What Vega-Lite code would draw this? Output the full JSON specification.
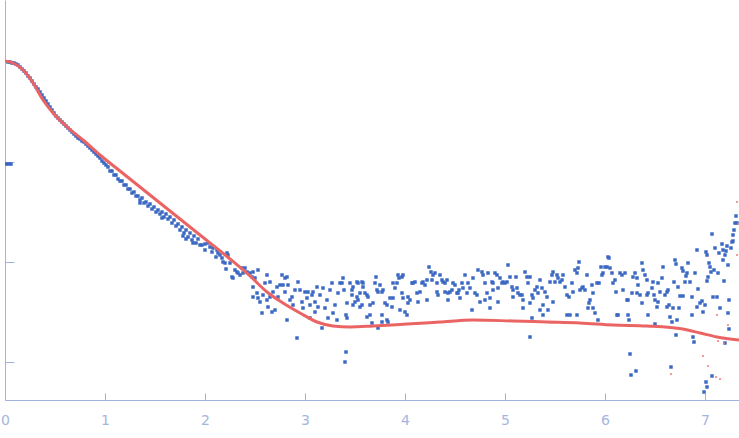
{
  "$schema": "https://vega.github.io/schema/vega-lite/v6.json",
  "width": 734,
  "height": 400,
  "autosize": {"type": "none"},
  "padding": {"left": 5, "top": 0, "right": 0, "bottom": 38},
  "background": "white",
  "config": {"view": {"stroke": null}},
  "datasets": {
    "obs": [
      {"q":0.01,"v":-1.02},{"q":0.035,"v":-1.02},{"q":0.06,"v":-1.02},
      {"q":0.03,"v":0.00},{"q":0.05,"v":0.00},{"q":0.07,"v":-0.01},{"q":0.09,"v":-0.01},{"q":0.11,"v":-0.02},{"q":0.13,"v":-0.03},{"q":0.15,"v":-0.05},{"q":0.17,"v":-0.07},{"q":0.19,"v":-0.09},{"q":0.21,"v":-0.11},{"q":0.23,"v":-0.14},{"q":0.25,"v":-0.16},{"q":0.27,"v":-0.19},{"q":0.29,"v":-0.22},{"q":0.31,"v":-0.25},{"q":0.33,"v":-0.27},{"q":0.35,"v":-0.30},{"q":0.37,"v":-0.33},{"q":0.39,"v":-0.36},{"q":0.41,"v":-0.39},{"q":0.43,"v":-0.42},{"q":0.45,"v":-0.45},{"q":0.47,"v":-0.48},{"q":0.49,"v":-0.51},{"q":0.51,"v":-0.54},{"q":0.53,"v":-0.56},{"q":0.55,"v":-0.58},{"q":0.57,"v":-0.60},{"q":0.59,"v":-0.62},{"q":0.61,"v":-0.64},{"q":0.63,"v":-0.66},{"q":0.65,"v":-0.68},{"q":0.67,"v":-0.70},{"q":0.69,"v":-0.72},{"q":0.71,"v":-0.74},{"q":0.73,"v":-0.76},{"q":0.75,"v":-0.77},{"q":0.77,"v":-0.79},{"q":0.79,"v":-0.80},{"q":0.81,"v":-0.82},{"q":0.83,"v":-0.84},{"q":0.85,"v":-0.86},{"q":0.87,"v":-0.88},{"q":0.89,"v":-0.90},{"q":0.91,"v":-0.92},{"q":0.93,"v":-0.94},{"q":0.95,"v":-0.96},{"q":0.97,"v":-0.99},{"q":0.99,"v":-1.01},{"q":1.01,"v":-1.03},{"q":1.03,"v":-1.05},
      {"q":1.05,"v":-1.09},{"q":1.07,"v":-1.09},{"q":1.09,"v":-1.13},{"q":1.11,"v":-1.13},{"q":1.13,"v":-1.17},{"q":1.15,"v":-1.19},{"q":1.17,"v":-1.19},{"q":1.19,"v":-1.23},{"q":1.21,"v":-1.23},{"q":1.23,"v":-1.27},{"q":1.25,"v":-1.27},{"q":1.27,"v":-1.31},{"q":1.29,"v":-1.30},{"q":1.31,"v":-1.34},{"q":1.33,"v":-1.34},{"q":1.35,"v":-1.38},{"q":1.35,"v":-1.41},{"q":1.37,"v":-1.36},{"q":1.39,"v":-1.41},{"q":1.41,"v":-1.40},{"q":1.43,"v":-1.44},{"q":1.45,"v":-1.42},{"q":1.47,"v":-1.47},{"q":1.49,"v":-1.45},{"q":1.51,"v":-1.50},{"q":1.53,"v":-1.48},{"q":1.55,"v":-1.52},{"q":1.57,"v":-1.50},{"q":1.57,"v":-1.56},{"q":1.59,"v":-1.55},{"q":1.61,"v":-1.52},{"q":1.63,"v":-1.57},{"q":1.65,"v":-1.55},{"q":1.67,"v":-1.61},{"q":1.69,"v":-1.58},{"q":1.71,"v":-1.64},{"q":1.73,"v":-1.62},{"q":1.75,"v":-1.68},{"q":1.77,"v":-1.65},{"q":1.78,"v":-1.74},{"q":1.79,"v":-1.71},{"q":1.81,"v":-1.68},{"q":1.81,"v":-1.77},{"q":1.83,"v":-1.75},{"q":1.85,"v":-1.71},{"q":1.87,"v":-1.78},{"q":1.88,"v":-1.81},{"q":1.89,"v":-1.74},{"q":1.91,"v":-1.81},{"q":1.93,"v":-1.77},{"q":1.95,"v":-1.83},
      {"q":1.97,"v":-1.83},{"q":2.00,"v":-1.82},{"q":2.00,"v":-1.88},{"q":2.03,"v":-1.81},{"q":2.05,"v":-1.85},{"q":2.07,"v":-1.90},{"q":2.08,"v":-1.86},{"q":2.12,"v":-1.88},{"q":2.13,"v":-1.91},{"q":2.11,"v":-1.95},{"q":2.15,"v":-1.93},{"q":2.17,"v":-1.96},{"q":2.18,"v":-2.00},{"q":2.20,"v":-2.01},{"q":2.22,"v":-1.91},{"q":2.23,"v":-1.93},{"q":2.21,"v":-2.07},{"q":2.25,"v":-2.01},{"q":2.27,"v":-2.15},{"q":2.28,"v":-2.16},{"q":2.30,"v":-2.08},{"q":2.32,"v":-2.10},{"q":2.33,"v":-2.11},{"q":2.35,"v":-2.13},{"q":2.37,"v":-2.06},{"q":2.38,"v":-2.11},{"q":2.40,"v":-2.06},{"q":2.42,"v":-2.10},{"q":2.45,"v":-2.11},{"q":2.47,"v":-2.15},{"q":2.48,"v":-2.10},{"q":2.50,"v":-2.16},{"q":2.53,"v":-2.08},{"q":2.48,"v":-2.25},{"q":2.48,"v":-2.35},{"q":2.52,"v":-2.31},{"q":2.53,"v":-2.36},{"q":2.55,"v":-2.40},{"q":2.57,"v":-2.51},{"q":2.58,"v":-2.33},{"q":2.60,"v":-2.21},{"q":2.62,"v":-2.13},{"q":2.62,"v":-2.38},{"q":2.63,"v":-2.45},{"q":2.65,"v":-2.20},{"q":2.65,"v":-2.35},{"q":2.67,"v":-2.50},{"q":2.68,"v":-2.30},{"q":2.70,"v":-2.48},{"q":2.72,"v":-2.25},{"q":2.73,"v":-2.35},{"q":2.75,"v":-2.23},{"q":2.77,"v":-2.13},{"q":2.78,"v":-2.23},{"q":2.80,"v":-2.16},{"q":2.80,"v":-2.30},{"q":2.82,"v":-2.58},{"q":2.82,"v":-2.15},{"q":2.83,"v":-2.23},{"q":2.85,"v":-2.38},{"q":2.87,"v":-2.35},{"q":2.88,"v":-2.43},{"q":2.90,"v":-2.28},{"q":2.92,"v":-2.76},{"q":2.93,"v":-2.20},{"q":2.95,"v":-2.28},{"q":2.97,"v":-2.40},{"q":2.98,"v":-2.46},{"q":3.00,"v":-2.30},{"q":3.02,"v":-2.36},{"q":3.03,"v":-2.30},{"q":3.05,"v":-2.56},{"q":3.05,"v":-2.43},{"q":3.07,"v":-2.33},{"q":3.08,"v":-2.30},{"q":3.10,"v":-2.50},{"q":3.10,"v":-2.40},{"q":3.12,"v":-2.25},{"q":3.13,"v":-2.45},{"q":3.15,"v":-2.33},{"q":3.17,"v":-2.66},{"q":3.18,"v":-2.26},{"q":3.20,"v":-2.46},{"q":3.22,"v":-2.38},{"q":3.23,"v":-2.56},{"q":3.25,"v":-2.28},{"q":3.27,"v":-2.21},{"q":3.28,"v":-2.51},{"q":3.30,"v":-2.43},{"q":3.32,"v":-2.58},{"q":3.33,"v":-2.31},{"q":3.35,"v":-2.21},
      {"q":3.37,"v":-2.21},{"q":3.38,"v":-2.16},{"q":3.39,"v":-2.28},{"q":3.42,"v":-2.41},{"q":3.41,"v":-2.53},{"q":3.42,"v":-2.56},{"q":3.41,"v":-2.90},{"q":3.40,"v":-3.00},{"q":3.45,"v":-2.21},{"q":3.47,"v":-2.28},{"q":3.47,"v":-2.33},{"q":3.48,"v":-2.25},{"q":3.50,"v":-2.40},{"q":3.48,"v":-2.43},{"q":3.52,"v":-2.20},{"q":3.53,"v":-2.21},{"q":3.52,"v":-2.35},{"q":3.53,"v":-2.38},{"q":3.55,"v":-2.31},{"q":3.57,"v":-2.20},{"q":3.58,"v":-2.21},{"q":3.58,"v":-2.25},{"q":3.55,"v":-2.45},{"q":3.57,"v":-2.43},{"q":3.60,"v":-2.31},{"q":3.62,"v":-2.33},{"q":3.63,"v":-2.35},{"q":3.62,"v":-2.55},{"q":3.65,"v":-2.53},{"q":3.67,"v":-2.61},{"q":3.65,"v":-2.43},{"q":3.68,"v":-2.41},{"q":3.70,"v":-2.21},{"q":3.71,"v":-2.15},{"q":3.72,"v":-2.28},{"q":3.73,"v":-2.30},{"q":3.75,"v":-2.23},{"q":3.77,"v":-2.30},{"q":3.78,"v":-2.28},{"q":3.77,"v":-2.53},{"q":3.77,"v":-2.60},{"q":3.80,"v":-2.41},{"q":3.82,"v":-2.58},{"q":3.83,"v":-2.60},{"q":3.73,"v":-2.66},{"q":3.82,"v":-2.43},{"q":3.85,"v":-2.36},{"q":3.87,"v":-2.45},{"q":3.88,"v":-2.21},{"q":3.90,"v":-2.26},{"q":3.88,"v":-2.36},{"q":3.92,"v":-2.21},{"q":3.93,"v":-2.13},{"q":3.94,"v":-2.16},{"q":3.97,"v":-2.15},{"q":3.98,"v":-2.13},{"q":3.97,"v":-2.31},{"q":3.98,"v":-2.36},{"q":3.95,"v":-2.48},{"q":4.00,"v":-2.50},{"q":4.02,"v":-2.53},{"q":4.03,"v":-2.41},{"q":4.05,"v":-2.38},{"q":4.03,"v":-2.35},{"q":4.07,"v":-2.21},{"q":4.08,"v":-2.21},{"q":4.10,"v":-2.20},{"q":4.12,"v":-2.31},{"q":4.13,"v":-2.40},{"q":4.15,"v":-2.30},{"q":4.17,"v":-2.21},{"q":4.18,"v":-2.20},{"q":4.20,"v":-2.23},{"q":4.22,"v":-2.18},{"q":4.22,"v":-2.38},{"q":4.24,"v":-2.05},{"q":4.26,"v":-2.10},{"q":4.27,"v":-2.18},{"q":4.28,"v":-2.13},{"q":4.30,"v":-2.11},{"q":4.32,"v":-2.21},{"q":4.32,"v":-2.30},{"q":4.33,"v":-2.33},{"q":4.35,"v":-2.13},{"q":4.37,"v":-2.18},{"q":4.38,"v":-2.20},{"q":4.40,"v":-2.21},{"q":4.42,"v":-2.18},{"q":4.40,"v":-2.30},{"q":4.43,"v":-2.31},{"q":4.43,"v":-2.38},{"q":4.45,"v":-2.30},{"q":4.47,"v":-2.28},{"q":4.48,"v":-2.21},{"q":4.50,"v":-2.23},{"q":4.52,"v":-2.31},{"q":4.53,"v":-2.31},{"q":4.54,"v":-2.28},{"q":4.55,"v":-2.36},{"q":4.57,"v":-2.21},{"q":4.58,"v":-2.26},{"q":4.60,"v":-2.13},{"q":4.62,"v":-2.31},{"q":4.63,"v":-2.21},{"q":4.65,"v":-2.26},{"q":4.67,"v":-2.48},{"q":4.68,"v":-2.16},{"q":4.70,"v":-2.31},{"q":4.72,"v":-2.33},{"q":4.73,"v":-2.08},{"q":4.75,"v":-2.40},
      {"q":4.77,"v":-2.10},{"q":4.78,"v":-2.13},{"q":4.80,"v":-2.21},{"q":4.80,"v":-2.38},{"q":4.82,"v":-2.31},{"q":4.83,"v":-2.11},{"q":4.85,"v":-2.46},{"q":4.85,"v":-2.36},{"q":4.87,"v":-2.20},{"q":4.88,"v":-2.21},{"q":4.88,"v":-2.28},{"q":4.90,"v":-2.11},{"q":4.92,"v":-2.13},{"q":4.93,"v":-2.40},{"q":4.93,"v":-2.26},{"q":4.95,"v":-2.16},{"q":4.97,"v":-2.21},{"q":4.98,"v":-2.20},{"q":5.00,"v":-2.21},{"q":5.02,"v":-2.20},{"q":5.03,"v":-2.03},{"q":5.05,"v":-2.15},{"q":5.07,"v":-2.25},{"q":5.08,"v":-2.28},{"q":5.08,"v":-2.35},{"q":5.11,"v":-2.15},{"q":5.12,"v":-2.26},{"q":5.13,"v":-2.31},{"q":5.15,"v":-2.33},{"q":5.17,"v":-2.33},{"q":5.18,"v":-2.38},{"q":5.18,"v":-2.46},{"q":5.20,"v":-2.10},{"q":5.22,"v":-2.15},{"q":5.23,"v":-2.21},{"q":5.25,"v":-2.15},{"q":5.25,"v":-2.41},{"q":5.27,"v":-2.56},{"q":5.27,"v":-2.33},{"q":5.25,"v":-2.75},{"q":5.28,"v":-2.36},{"q":5.30,"v":-2.28},{"q":5.32,"v":-2.25},{"q":5.33,"v":-2.31},{"q":5.35,"v":-2.18},{"q":5.35,"v":-2.48},{"q":5.37,"v":-2.26},{"q":5.38,"v":-2.43},{"q":5.38,"v":-2.53},{"q":5.40,"v":-2.30},{"q":5.42,"v":-2.35},{"q":5.43,"v":-2.48},{"q":5.45,"v":-2.20},{"q":5.47,"v":-2.13},{"q":5.48,"v":-2.40},{"q":5.48,"v":-2.10},{"q":5.50,"v":-2.20},{"q":5.52,"v":-2.13},{"q":5.53,"v":-2.16},{"q":5.55,"v":-2.20},{"q":5.57,"v":-2.18},{"q":5.58,"v":-2.13},{"q":5.60,"v":-2.25},{"q":5.62,"v":-2.33},{"q":5.62,"v":-2.53},{"q":5.65,"v":-2.53},{"q":5.64,"v":-2.35},{"q":5.67,"v":-2.21},{"q":5.68,"v":-2.30},{"q":5.70,"v":-2.08},{"q":5.72,"v":-2.53},{"q":5.72,"v":-2.11},{"q":5.73,"v":-2.06},{"q":5.74,"v":-2.00},{"q":5.75,"v":-2.28},{"q":5.77,"v":-2.26},{"q":5.78,"v":-2.25},{"q":5.80,"v":-2.28},{"q":5.82,"v":-2.13},{"q":5.83,"v":-2.46},{"q":5.84,"v":-2.41},{"q":5.85,"v":-2.38},{"q":5.87,"v":-2.23},{"q":5.88,"v":-2.31},{"q":5.88,"v":-2.46},{"q":5.90,"v":-2.51},{"q":5.92,"v":-2.21},{"q":5.93,"v":-2.58},{"q":5.94,"v":-2.21},{"q":5.96,"v":-2.05},{"q":5.97,"v":-2.13},{"q":5.98,"v":-2.11},{"q":6.00,"v":-2.05},{"q":6.02,"v":-2.05},{"q":6.03,"v":-1.95},{"q":6.04,"v":-1.96},{"q":6.05,"v":-2.06},{"q":6.07,"v":-2.11},{"q":6.08,"v":-2.21},{"q":6.10,"v":-2.18},{"q":6.11,"v":-2.30},{"q":6.12,"v":-2.53},{"q":6.13,"v":-2.53},{"q":6.15,"v":-2.11},{"q":6.17,"v":-2.13},{"q":6.18,"v":-2.28},{"q":6.20,"v":-2.11},{"q":6.22,"v":-2.38},{"q":6.23,"v":-2.38},{"q":6.23,"v":-2.53},{"q":6.24,"v":-2.58},{"q":6.25,"v":-2.92},{"q":6.26,"v":-3.13},{"q":6.31,"v":-3.09},{"q":6.27,"v":-2.31},{"q":6.28,"v":-2.15},{"q":6.30,"v":-2.11},{"q":6.32,"v":-2.16},{"q":6.33,"v":-2.23},{"q":6.35,"v":-2.33},{"q":6.32,"v":-2.31},{"q":6.37,"v":-2.01},{"q":6.37,"v":-2.41},{"q":6.38,"v":-2.08},{"q":6.40,"v":-2.13},{"q":6.42,"v":-2.18},{"q":6.42,"v":-2.33},{"q":6.43,"v":-2.53},
      {"q":6.43,"v":-2.31},{"q":6.47,"v":-2.26},{"q":6.48,"v":-2.20},{"q":6.49,"v":-2.33},{"q":6.50,"v":-2.38},{"q":6.50,"v":-2.62},{"q":6.52,"v":-2.45},{"q":6.53,"v":-2.21},{"q":6.53,"v":-2.40},{"q":6.55,"v":-2.30},{"q":6.57,"v":-2.16},{"q":6.58,"v":-2.05},{"q":6.60,"v":-2.33},{"q":6.62,"v":-2.30},{"q":6.62,"v":-2.45},{"q":6.63,"v":-2.28},{"q":6.64,"v":-2.43},{"q":6.65,"v":-2.55},{"q":6.66,"v":-3.05},{"q":6.67,"v":-2.60},{"q":6.68,"v":-2.46},{"q":6.69,"v":-2.20},{"q":6.70,"v":-1.98},{"q":6.71,"v":-2.02},{"q":6.71,"v":-2.73},{"q":6.72,"v":-2.58},{"q":6.73,"v":-2.25},{"q":6.74,"v":-2.46},{"q":6.75,"v":-2.34},{"q":6.77,"v":-2.06},{"q":6.78,"v":-2.09},{"q":6.78,"v":-2.34},{"q":6.80,"v":-2.20},{"q":6.81,"v":-2.14},{"q":6.82,"v":-2.11},{"q":6.83,"v":-2.01},{"q":6.85,"v":-2.20},{"q":6.87,"v":-2.35},{"q":6.87,"v":-2.53},{"q":6.88,"v":-2.75},{"q":6.89,"v":-2.80},{"q":6.90,"v":-2.11},{"q":6.92,"v":-2.45},{"q":6.92,"v":-1.88},{"q":6.93,"v":-2.27},{"q":6.95,"v":-2.41},{"q":6.97,"v":-2.39},{"q":6.98,"v":-2.50},{"q":6.99,"v":-3.30},{"q":7.00,"v":-2.43},{"q":7.01,"v":-1.90},{"q":7.01,"v":-3.20},{"q":7.02,"v":-3.25},{"q":7.02,"v":-1.93},{"q":7.02,"v":-2.19},{"q":7.03,"v":-2.15},{"q":7.04,"v":-2.01},{"q":7.05,"v":-2.05},{"q":7.06,"v":-2.10},{"q":7.07,"v":-1.72},{"q":7.07,"v":-3.14},{"q":7.08,"v":-2.35},{"q":7.09,"v":-2.08},{"q":7.10,"v":-1.86},{"q":7.12,"v":-2.35},{"q":7.13,"v":-2.11},{"q":7.14,"v":-1.91},{"q":7.15,"v":-2.46},{"q":7.17,"v":-1.82},{"q":7.18,"v":-1.98},{"q":7.18,"v":-1.88},{"q":7.19,"v":-2.19},{"q":7.20,"v":-1.93},{"q":7.20,"v":-2.81},{"q":7.21,"v":-1.89},{"q":7.22,"v":-1.84},{"q":7.23,"v":-2.03},{"q":7.23,"v":-2.51},{"q":7.24,"v":-2.38},{"q":7.24,"v":-2.67},{"q":7.26,"v":-1.86},{"q":7.27,"v":-1.80},{"q":7.28,"v":-1.79},{"q":7.28,"v":-1.73},{"q":7.29,"v":-1.68},{"q":7.30,"v":-1.61},{"q":7.31,"v":-1.54},{"q":7.32,"v":-1.61}
    ],
    "fit": [
      {"q":0.0,"v":0.01},{"q":0.08,"v":-0.01},{"q":0.18,"v":-0.08},{"q":0.28,"v":-0.21},{"q":0.38,"v":-0.38},{"q":0.48,"v":-0.51},{"q":0.62,"v":-0.65},{"q":0.78,"v":-0.78},{"q":0.95,"v":-0.93},{"q":1.15,"v":-1.09},{"q":1.45,"v":-1.33},{"q":1.95,"v":-1.73},{"q":2.25,"v":-1.97},{"q":2.45,"v":-2.14},{"q":2.62,"v":-2.30},{"q":2.78,"v":-2.41},{"q":2.95,"v":-2.51},{"q":3.12,"v":-2.60},{"q":3.28,"v":-2.64},{"q":3.45,"v":-2.65},{"q":3.68,"v":-2.64},{"q":4.02,"v":-2.62},{"q":4.35,"v":-2.60},{"q":4.68,"v":-2.58},{"q":5.08,"v":-2.59},{"q":5.42,"v":-2.60},{"q":5.75,"v":-2.61},{"q":6.08,"v":-2.63},{"q":6.42,"v":-2.64},{"q":6.78,"v":-2.67},{"q":6.95,"v":-2.71},{"q":7.12,"v":-2.75},{"q":7.34,"v":-2.78}
    ],
    "neg": [
      {"q":6.66,"v":-3.12},{"q":6.98,"v":-2.94},{"q":7.03,"v":-3.04},{"q":7.11,"v":-3.15},{"q":7.15,"v":-3.17},{"q":7.12,"v":-2.53},{"q":7.23,"v":-2.63},{"q":7.13,"v":-2.79},{"q":7.19,"v":-2.81},{"q":7.32,"v":-1.93},{"q":7.33,"v":-1.62},{"q":7.32,"v":-1.40}
    ]
  },
  "encoding": {
    "x": {
      "field": "q", "type": "quantitative",
      "scale": {"domain": [0, 7.34], "nice": false, "zero": false},
      "axis": {"title": null, "values": [0,1,2,3,4,5,6,7], "grid": false, "tickSize": -7, "labelPadding": 20, "domainColor": "#9fb3de", "tickColor": "#9fb3de", "labelColor": "#a3b6e0", "labelFont": "DejaVu Sans", "labelFontSize": 14, "labelFlush": false}
    },
    "y": {
      "field": "v", "type": "quantitative",
      "scale": {"domain": [-3.38, 0.62], "nice": false, "zero": false},
      "axis": {"title": null, "values": [-3,-2,-1,0], "grid": false, "labels": false, "tickSize": -9, "domainColor": "#9fb3de", "tickColor": "#9fb3de"}
    }
  },
  "layer": [
    {"data": {"name": "obs"}, "mark": {"type": "point", "shape": "square", "filled": true, "size": 12, "color": "#3a68c2", "opacity": 1, "clip": true}},
    {"data": {"name": "fit"}, "mark": {"type": "line", "color": "#eb6464", "strokeWidth": 3, "interpolate": "monotone", "clip": true}},
    {"data": {"name": "neg"}, "mark": {"type": "circle", "size": 5, "color": "#f07878", "opacity": 0.9, "clip": true}}
  ]
}
